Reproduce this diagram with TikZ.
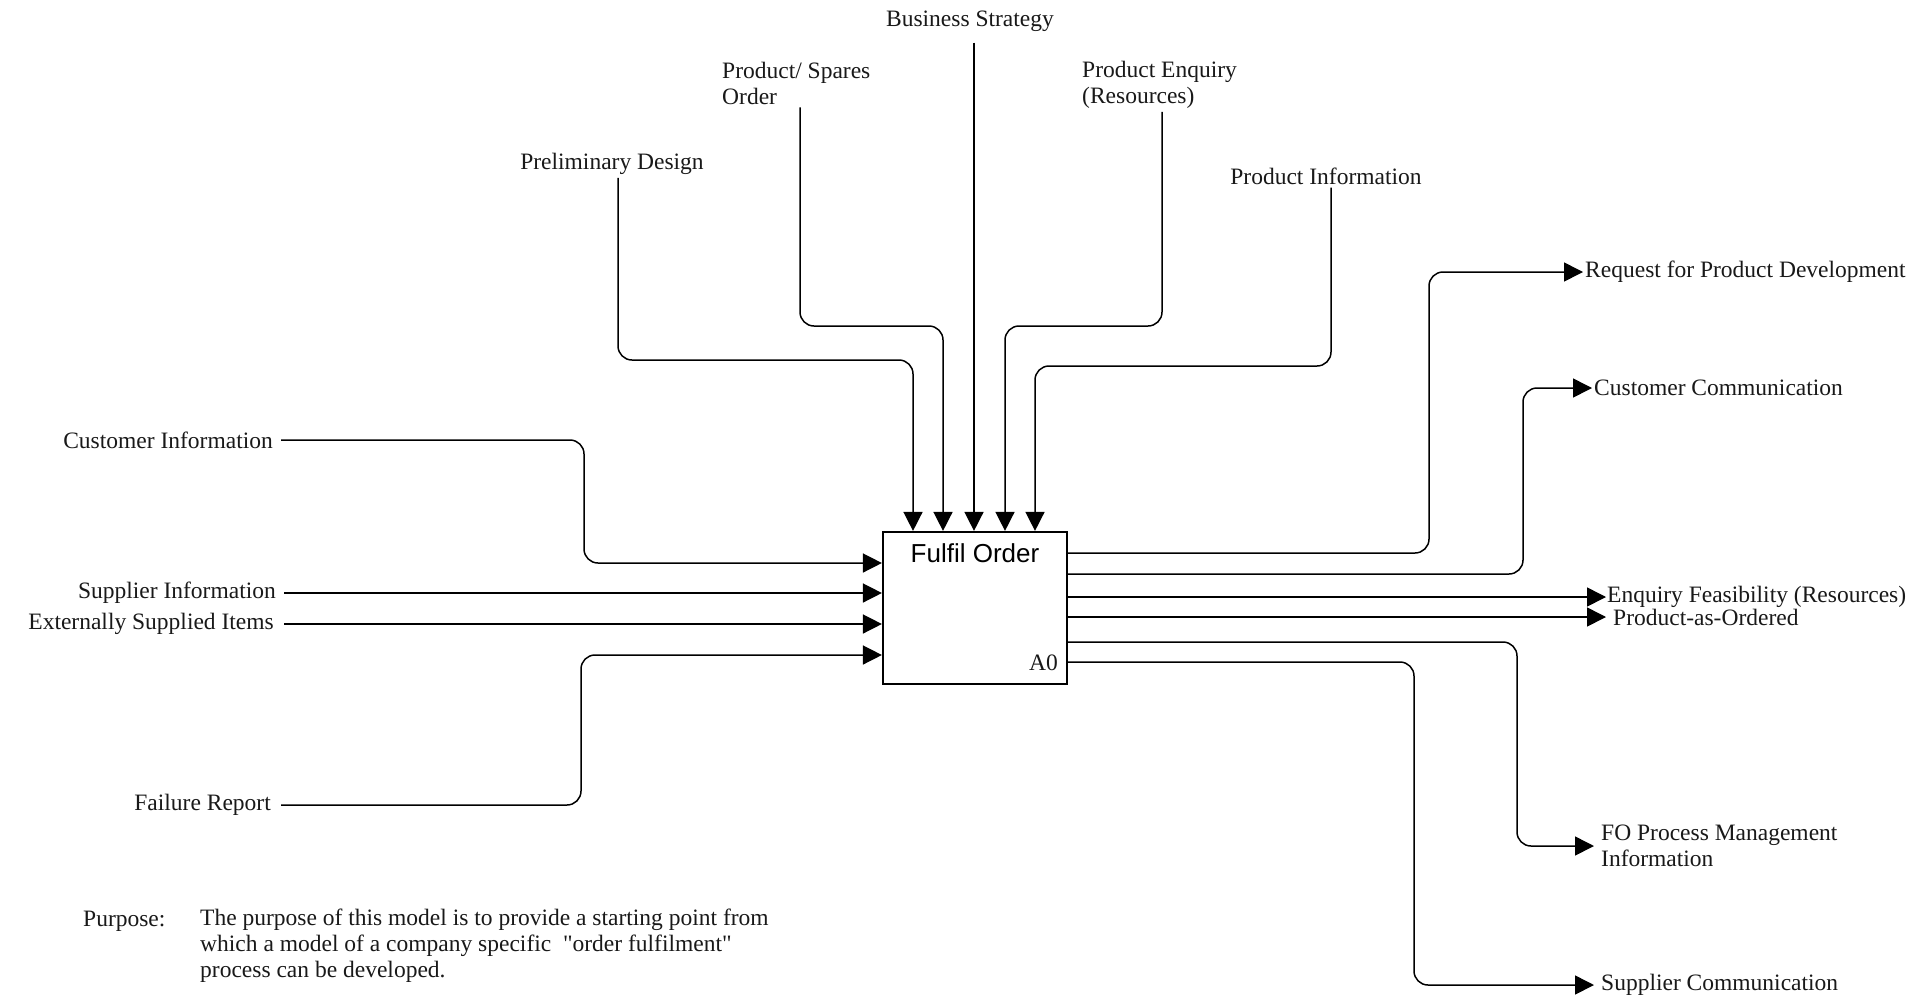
\documentclass[tikz,border=0pt]{standalone}
\usepackage{fontspec}
\setmainfont{Liberation Serif}[Ligatures=TeXOff]
\newfontfamily\boxfont{Liberation Sans}
\usetikzlibrary{arrows.meta}

\tikzset{
  lbl/.style={inner sep=3pt, font=\fontsize{23.5}{26}\selectfont, text=black!90},
  flow/.style={line width=1.5pt, rounded corners=14pt,
               -{Triangle[width=19pt,length=19pt]}},
  activity/.style={draw, line width=2.2pt, minimum width=184pt,
                   minimum height=152pt, inner sep=0pt}
}

\begin{document}
\begin{tikzpicture}[x=1pt,y=-1pt]
\useasboundingbox[fill=white] (0,0) rectangle (1921,999);

% activity box
\node[activity] (box) at (975,608) {};
\node[inner sep=0pt, font=\boxfont\fontsize{26}{28}\selectfont] (title) at (975,553) {Fulfil Order};
\node[lbl, anchor=east] (num) at (1061,663) {A0};

% controls (top)
\node[lbl] (bs) at (970,21) {Business Strategy};
\node[lbl, anchor=west, align=left] (ps) at (719,83) {Product/ Spares\\Order};
\node[lbl] (pd) at (612,164) {Preliminary Design};
\node[lbl, anchor=west, align=left] (pe) at (1079,85) {Product Enquiry\\(Resources)};
\node[lbl] (pi) at (1326,176) {Product Information};

\draw[flow] (pd.south -| 618,0) -- (618,360) -- (913,360) -- (box.north -| 913,0);
\draw[flow] (ps.south -| 800,0) -- (800,326) -- (943,326) -- (box.north -| 943,0);
\draw[flow] ([yshift=-8pt]bs.south -| 974,0) -- (box.north -| 974,0);
\draw[flow] (pe.south -| 1162,0) -- (1162,326) -- (1005,326) -- (box.north -| 1005,0);
\draw[flow] (pi.south -| 1331,0) -- (1331,366) -- (1035,366) -- (box.north -| 1035,0);

% inputs (left)
\node[lbl, anchor=east, inner xsep=8pt] (ci) at (281,440) {Customer Information};
\node[lbl, anchor=east, inner xsep=8pt] (si) at (284,593) {Supplier Information};
\node[lbl, anchor=east, inner xsep=10pt] (esi) at (284,624) {Externally Supplied Items};
\node[lbl, anchor=east, inner xsep=10pt] (fr) at (281,805) {Failure Report};

\draw[flow] (ci.east) -- (584,440) -- (584,563) -- (box.west |- 0,563);
\draw[flow] (si.east) -- (box.west |- si.east);
\draw[flow] (esi.east) -- (box.west |- esi.east);
\draw[flow] (fr.east) -- (581,805) -- (581,655) -- (box.west |- 0,655);

% outputs (right)
\node[lbl, anchor=west, inner xsep=2pt] (rpd) at (1583,272) {Request for Product Development};
\node[lbl, anchor=west, inner xsep=2pt] (cc) at (1592,388) {Customer Communication};
\node[lbl, anchor=west, inner xsep=1pt] (ef) at (1606,597) {Enquiry Feasibility (Resources)};
\node[lbl, anchor=west, inner xsep=7pt] (pao) at (1606,617) {Product-as-Ordered};
\node[lbl, anchor=west, inner xsep=7pt, align=left] (fo) at (1594,846) {FO Process Management\\Information};
\node[lbl, anchor=west, inner xsep=7pt] (sc) at (1594,985) {Supplier Communication};

\draw[flow] (box.east |- 0,553) -- (1429,553) -- (1429,272) -- (rpd.west);
\draw[flow] (box.east |- 0,574) -- (1523,574) -- (1523,388) -- (cc.west);
\draw[flow] (box.east |- 0,597) -- (ef.west);
\draw[flow] (box.east |- 0,617) -- (pao.west);
\draw[flow] (box.east |- 0,642) -- (1517,642) -- (1517,846) -- (fo.west |- 0,846);
\draw[flow] (box.east |- 0,662) -- (1414,662) -- (1414,985) -- (sc.west);

% purpose note
\node[lbl, anchor=west] (purp) at (80,921) {Purpose:};
\node[lbl, anchor=west, align=left] (note) at (197,946)
  {The purpose of this model is to provide a starting point from\\
   which a model of a company specific \ "order fulfilment"\\
   process can be developed.};
\end{tikzpicture}
\end{document}
